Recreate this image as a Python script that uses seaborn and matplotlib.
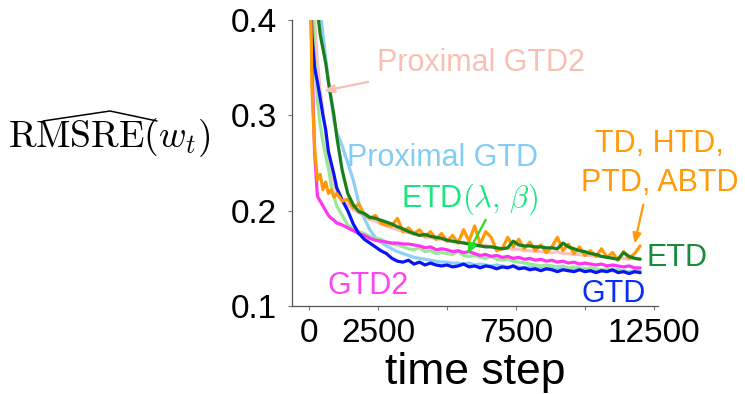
import matplotlib
matplotlib.use("Agg")
import matplotlib.pyplot as plt
from matplotlib.lines import Line2D
import seaborn as sns
import pandas as pd

# ---------------- data ----------------
steps = [0, 100, 200, 300, 400, 500, 600, 700, 800, 900, 1000,
         1200, 1400, 1600, 1800, 2000, 2200, 2400, 2600, 2800, 3000,
         3200, 3400, 3600, 3800, 4000, 4200, 4400, 4600, 4800, 5000,
         5200, 5400, 5600, 5800, 6000, 6200, 6400, 6600, 6800, 7000,
         7200, 7400, 7600, 7800, 8000, 8200, 8400, 8600, 8800, 9000,
         9200, 9400, 9600, 9800, 10000, 10200, 10400, 10600, 10800, 11000,
         11200, 11400, 11600, 11800, 12000]

prox_gtd2 = [0.60, 0.48, 0.40, 0.355, 0.328, 0.305, 0.280, 0.258, 0.240, 0.228, 0.220,
             0.212, 0.206, 0.201, 0.198, 0.194, 0.191, 0.189, 0.186, 0.184, 0.182,
             0.180, 0.178, 0.177, 0.175, 0.176, 0.172, 0.172, 0.170, 0.170, 0.168,
             0.168, 0.166, 0.167, 0.165, 0.166, 0.163, 0.164, 0.162, 0.160, 0.160,
             0.161, 0.159, 0.160, 0.158, 0.158, 0.157, 0.157, 0.156, 0.156, 0.157,
             0.155, 0.155, 0.154, 0.154, 0.153, 0.153, 0.152, 0.152, 0.151, 0.151,
             0.150, 0.150, 0.149, 0.150, 0.150]

prox_gtd = [0.60, 0.53, 0.48, 0.44, 0.41, 0.385, 0.36, 0.335, 0.315, 0.295, 0.282,
            0.268, 0.250, 0.232, 0.208, 0.192, 0.180, 0.172, 0.167, 0.163, 0.160,
            0.157, 0.155, 0.153, 0.151, 0.150, 0.149, 0.148, 0.147, 0.146, 0.146,
            0.145, 0.145, 0.144, 0.145, 0.143, 0.144, 0.143, 0.142, 0.143, 0.142,
            0.141, 0.142, 0.141, 0.140, 0.141, 0.140, 0.141, 0.139, 0.140, 0.139,
            0.140, 0.139, 0.138, 0.139, 0.138, 0.139, 0.138, 0.137, 0.138, 0.137,
            0.138, 0.137, 0.136, 0.137, 0.137]

etd_lb = [0.60, 0.45, 0.36, 0.315, 0.290, 0.272, 0.258, 0.244, 0.226, 0.215, 0.205,
          0.195, 0.185, 0.181, 0.178, 0.176, 0.173, 0.171, 0.170, 0.167, 0.165,
          0.164, 0.162, 0.160, 0.159, 0.161, 0.157, 0.158, 0.155, 0.156, 0.155,
          0.154, 0.157, 0.153, 0.152, 0.153, 0.151, 0.150, 0.152, 0.149, 0.148,
          0.149, 0.147, 0.146, 0.145, 0.144, 0.143, 0.142, 0.143, 0.142, 0.141,
          0.142, 0.140, 0.141, 0.140, 0.139, 0.140, 0.139, 0.138, 0.139, 0.137,
          0.138, 0.136, 0.135, 0.136, 0.135]

gtd2 = [0.50, 0.36, 0.26, 0.215, 0.210, 0.205, 0.200, 0.195, 0.192, 0.190, 0.187,
        0.185, 0.182, 0.179, 0.176, 0.174, 0.171, 0.169, 0.168, 0.167, 0.166,
        0.166, 0.165, 0.165, 0.164, 0.163, 0.161, 0.162, 0.159, 0.160, 0.159,
        0.157, 0.158, 0.156, 0.157, 0.155, 0.153, 0.154, 0.152, 0.153, 0.151,
        0.152, 0.150, 0.151, 0.149, 0.150, 0.148, 0.149, 0.147, 0.148, 0.146,
        0.147, 0.145, 0.146, 0.144, 0.145, 0.144, 0.143, 0.144, 0.142, 0.143,
        0.142, 0.141, 0.142, 0.140, 0.140]

gtd = [0.47, 0.385, 0.35, 0.335, 0.318, 0.300, 0.285, 0.262, 0.250, 0.238, 0.224,
       0.211, 0.200, 0.186, 0.176, 0.170, 0.166, 0.162, 0.158, 0.155, 0.150,
       0.147, 0.146, 0.148, 0.144, 0.146, 0.143, 0.145, 0.143, 0.142, 0.143,
       0.141, 0.142, 0.144, 0.141, 0.142, 0.140, 0.142, 0.141, 0.139, 0.141,
       0.140, 0.142, 0.139, 0.140, 0.138, 0.139, 0.137, 0.139, 0.138, 0.136,
       0.138, 0.137, 0.136, 0.138, 0.136, 0.137, 0.135, 0.137, 0.136, 0.138,
       0.135, 0.136, 0.134, 0.136, 0.135]

td_group = [0.55, 0.33, 0.265, 0.232, 0.238, 0.222, 0.230, 0.218, 0.222, 0.214, 0.218,
            0.210, 0.212, 0.203, 0.207, 0.196, 0.192, 0.195, 0.187, 0.185, 0.184,
            0.192, 0.178, 0.182, 0.176, 0.180, 0.173, 0.178, 0.170, 0.176, 0.168,
            0.174, 0.166, 0.180, 0.168, 0.184, 0.165, 0.178, 0.172, 0.158, 0.160,
            0.172, 0.162, 0.170, 0.160, 0.167, 0.158, 0.164, 0.156, 0.162, 0.172,
            0.158, 0.165, 0.155, 0.162, 0.153, 0.158, 0.152, 0.160, 0.151, 0.156,
            0.148, 0.157, 0.150, 0.155, 0.163]

etd = [0.62, 0.54, 0.46, 0.41, 0.385, 0.37, 0.355, 0.335, 0.317, 0.300, 0.278,
       0.242, 0.218, 0.206, 0.199, 0.197, 0.193, 0.192, 0.190, 0.188, 0.186,
       0.183, 0.181, 0.178, 0.176, 0.174, 0.175, 0.173, 0.172, 0.171, 0.169,
       0.168, 0.167, 0.166, 0.165, 0.164, 0.163, 0.162, 0.162, 0.161, 0.160,
       0.161, 0.168, 0.164, 0.163, 0.163, 0.162, 0.162, 0.161, 0.161, 0.160,
       0.166, 0.162, 0.160, 0.158, 0.157, 0.155, 0.154, 0.152, 0.151, 0.150,
       0.149, 0.156, 0.152, 0.150, 0.149]

series_names = ["Proximal GTD2", "Proximal GTD", "ETD(lambda,beta)", "GTD2",
                "GTD", "TD/HTD/PTD/ABTD", "ETD"]
series_values = [prox_gtd2, prox_gtd, etd_lb, gtd2, gtd, td_group, etd]
series_colors = ["#FBC3C0", "#8DCFF7", "#98E898", "#FF33F0",
                 "#0A14F5", "#FF9A0A", "#1A7F1A"]

x_ticks = [0, 2500, 5000, 7500, 10000, 12500]
x_ticklabels = ["0", "2500", "", "7500", "", "12500"]
y_ticks = [0.1, 0.2, 0.3, 0.4]
y_ticklabels = ["0.1", "0.2", "0.3", "0.4"]

# ---------------- style ----------------
sns.set_style("ticks")
plt.rcParams["font.family"] = ["Liberation Sans", "DejaVu Sans"]
plt.rcParams["mathtext.fontset"] = "cm"
plt.rcParams["axes.labelcolor"] = "black"
plt.rcParams["text.color"] = "black"

rows = []
for name, vals in zip(series_names, series_values):
    for s, v in zip(steps, vals):
        rows.append({"step": s, "value": v, "method": name})
df = pd.DataFrame(rows)

W, H = 745, 394
fig = plt.figure(figsize=(W / 100, H / 100), dpi=100)
ax = fig.add_axes([0.392, 0.2234, 0.4913, 0.7259])

sns.lineplot(data=df, x="step", y="value", hue="method",
             hue_order=series_names, palette=dict(zip(series_names, series_colors)),
             estimator=None, linewidth=2.3, legend=False, ax=ax)

ax.set_xlim(-620, 12650)
ax.set_ylim(0.1, 0.4)
ax.set_xticks(x_ticks)
ax.set_xticklabels(x_ticklabels)
ax.set_yticks(y_ticks)
ax.set_yticklabels(y_ticklabels)
sns.despine(ax=ax)
for sp in ["left", "bottom"]:
    ax.spines[sp].set_color("#555555")
    ax.spines[sp].set_linewidth(0.9)
ax.tick_params(axis="both", length=3, width=0.8, color="#777777",
               labelsize=24, labelcolor="black")
ax.tick_params(axis="y", pad=8)
ax.tick_params(axis="x", pad=6)

ax.set_xlabel("time step", fontsize=32, labelpad=2, color="black")
ax.set_ylabel(r"$\mathrm{RMSRE}(w_t)$", fontsize=27, rotation=0,
              ha="center", va="baseline", color="black")
ax.yaxis.set_label_coords(-0.50, 0.556)
# thin wide hat over "RMSRE" (part of the y-axis label)
hat_px_x = [43, 110, 157]
hat_px_y = [121, 111, 121]
fig.add_artist(Line2D([v / W for v in hat_px_x], [1 - v / H for v in hat_px_y],
                      transform=fig.transFigure, color="black", lw=1.1))

# ---------------- annotations ----------------
fs = 22
ax.text(2464, 0.3462, "Proximal GTD2", color="#F9C0B2", fontsize=fs,
        ha="left", va="baseline")
ax.annotate("", xy=(435, 0.325), xytext=(2246, 0.3357),
            arrowprops=dict(arrowstyle="-|>,head_length=0.6,head_width=0.25",
                            color="#F9C0B2", lw=1.6))
ax.text(1377, 0.2465, "Proximal GTD", color="#82CCF8", fontsize=fs,
        ha="left", va="baseline")
ax.text(3333, 0.2045, r"ETD$(\lambda,\,\beta)$", color="#19E67E", fontsize=fs,
        ha="left", va="baseline")
ax.annotate("", xy=(5688, 0.152), xytext=(6449, 0.193),
            arrowprops=dict(arrowstyle="-|>,head_length=0.6,head_width=0.25",
                            color="#22DD22", lw=1.6))
ax.text(652, 0.1122, "GTD2", color="#FF44F0", fontsize=fs,
        ha="left", va="baseline")
ax.text(9891, 0.1038, "GTD", color="#0A2CF5", fontsize=fs,
        ha="left", va="baseline")
ax.text(12246, 0.1416, "ETD", color="#1A8A3C", fontsize=fs,
        ha="left", va="baseline")
ax.text(12681, 0.261, "TD, HTD,", color="#FF9A0A", fontsize=fs,
        ha="center", va="baseline")
ax.text(12717, 0.2202, "PTD, ABTD", color="#FF9A0A", fontsize=fs,
        ha="center", va="baseline")
ax.annotate("", xy=(11775, 0.1625), xytext=(12136, 0.209),
            arrowprops=dict(arrowstyle="-|>,head_length=0.6,head_width=0.25",
                            color="#FF9A0A", lw=1.6))

fig.savefig("out.png", dpi=100)
